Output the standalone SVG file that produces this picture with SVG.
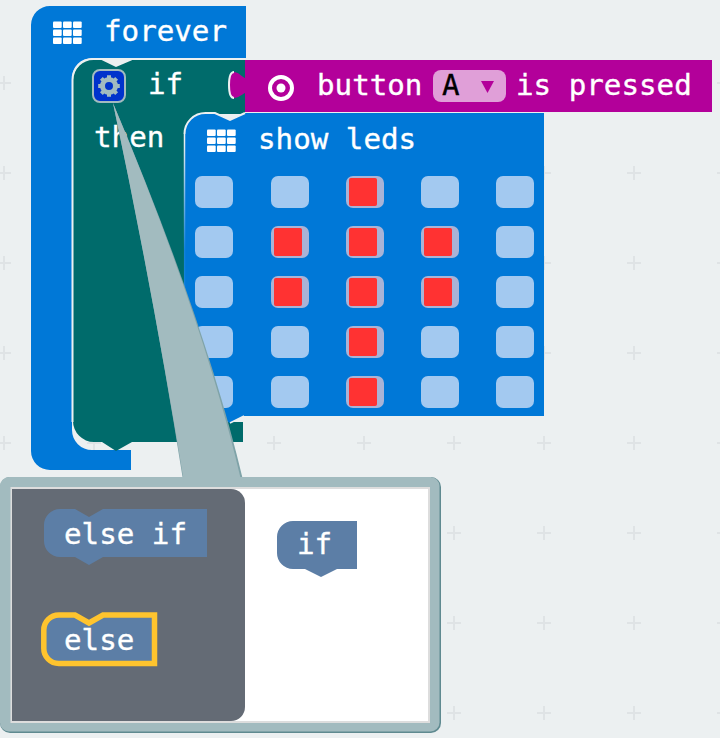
<svg xmlns="http://www.w3.org/2000/svg" width="720" height="738" viewBox="0 0 720 738">
<style>
text{font-family:"DejaVu Sans Mono","Liberation Mono",monospace;fill:#fff;stroke:#fff;stroke-width:.35;font-size:29.2px}
.w{fill:#fff}
.off{fill:#a3c9f0}
.red{fill:#ff3030}
.pl{stroke:#dfe3e5;stroke-width:2;fill:none}
.blk{fill:#5c7ea6}
.edge{fill:none;stroke:#ecf0f1;stroke-width:2}
</style>
<defs>
<filter id="soft" x="-10%" y="-10%" width="120%" height="120%"><feGaussianBlur stdDeviation=".6"/></filter>
<linearGradient id="fade" gradientUnits="userSpaceOnUse" x1="0" y1="140" x2="0" y2="250"><stop offset="0" stop-color="#ecf0f1"/><stop offset="1" stop-color="#ecf0f1" stop-opacity=".08"/></linearGradient>
<path id="p" d="M-7 0H7M0-7V7"/>
<g id="grid"><rect x="0" y="0" width="8.700" height="6.600" rx="1" class="w"/><rect x="10" y="0" width="8.700" height="6.600" rx="1" class="w"/><rect x="20" y="0" width="8.700" height="6.600" rx="1" class="w"/><rect x="0" y="8" width="8.700" height="6.600" rx="1" class="w"/><rect x="10" y="8" width="8.700" height="6.600" rx="1" class="w"/><rect x="20" y="8" width="8.700" height="6.600" rx="1" class="w"/><rect x="0" y="16" width="8.700" height="6.600" rx="1" class="w"/><rect x="10" y="16" width="8.700" height="6.600" rx="1" class="w"/><rect x="20" y="16" width="8.700" height="6.600" rx="1" class="w"/></g>
<g id="led"><rect width="38" height="32" rx="7" class="off"/></g>
<g id="ledon"><rect width="38" height="32" rx="7" fill="#a9b3d6"/><rect x="3" y="2" width="28" height="28" rx="2" class="red" filter="url(#soft)"/></g>
<path id="teeth" d="M-2-10.800H2V-8H-2ZM-2 8H2V10.800H-2Z" fill="#a2bbbf"/>
</defs>
<rect width="720" height="738" fill="#ecf0f1"/>
<g class="pl">
<use href="#p" x="4" y="83"/><use href="#p" x="4" y="173"/><use href="#p" x="4" y="263"/><use href="#p" x="4" y="353"/><use href="#p" x="4" y="443"/>
<use href="#p" x="94" y="443"/><use href="#p" x="274" y="443"/><use href="#p" x="364" y="443"/>
<use href="#p" x="544" y="173"/><use href="#p" x="544" y="263"/><use href="#p" x="544" y="353"/>
<use href="#p" x="634" y="173"/><use href="#p" x="634" y="263"/><use href="#p" x="634" y="353"/>
<use href="#p" x="724" y="83"/><use href="#p" x="724" y="173"/><use href="#p" x="724" y="263"/><use href="#p" x="724" y="353"/>
<use href="#p" x="454" y="443"/><use href="#p" x="544" y="443"/><use href="#p" x="634" y="443"/><use href="#p" x="724" y="443"/>
<use href="#p" x="454" y="533"/><use href="#p" x="544" y="533"/><use href="#p" x="634" y="533"/><use href="#p" x="724" y="533"/>
<use href="#p" x="454" y="623"/><use href="#p" x="544" y="623"/><use href="#p" x="634" y="623"/><use href="#p" x="724" y="623"/>
<use href="#p" x="454" y="713"/><use href="#p" x="544" y="713"/><use href="#p" x="634" y="713"/><use href="#p" x="724" y="713"/>
</g>
<g id="forever">
<path d="M31 25a19 19 0 0 1 19-19H246V58H92a20 20 0 0 0-20 20V430a20 20 0 0 0 20 20H131V470H50a19 19 0 0 1-19-19Z" fill="#0078d7"/>
<use href="#grid" x="53" y="21.500"/>
<text x="104" y="41">forever</text>
</g>
<g id="if">
<path d="M73 80a21 21 0 0 1 21-21H102L116 66L132 59H245V114H207L185 134V422H243V442H132L116 451L102 442H94a21 21 0 0 1-21-21Z" fill="#006b6b"/>
<path class="edge" d="M72.500 422V80a21 21 0 0 1 21-21H102L116 66L132 59H245"/>
<rect x="93" y="70" width="32" height="32" rx="7" fill="#0033cc" stroke="#a2bbbf" stroke-width="2"/>
<g transform="translate(109 86)"><circle r="6.500" fill="none" stroke="#a2bbbf" stroke-width="5"/><use href="#teeth"/><use href="#teeth" transform="rotate(45)"/><use href="#teeth" transform="rotate(90)"/><use href="#teeth" transform="rotate(135)"/></g>
<text x="148" y="94">if</text>
<text x="94" y="147">then</text>
</g>
<g id="button">
<path d="M245 60H712V112H245V93C241 95 238 98 234 98C230 98 229 93 229 85C229 77 230 72 234 72C238 72 241 76 245 78Z" fill="#b3009a"/>
<path d="M234 72C230 72 229 77 229 85C229 93 230 98 234 98" fill="none" stroke="#ecf0f1" stroke-width="2"/>
<circle cx="281" cy="88" r="11" fill="none" stroke="#fff" stroke-width="4"/><circle cx="281" cy="88" r="4.500" class="w"/>
<text x="317" y="95">button</text>
<rect x="433" y="70" width="73" height="32" rx="8" fill="#e09fd8"/>
<text x="442" y="95" style="fill:#000;stroke:#000">A</text>
<path d="M481 81H494L487.500 93Z" fill="#b3009a"/>
<text x="516" y="95">is pressed</text>
</g>
<g id="showleds">
<path d="M184 134a21 21 0 0 1 21-21H215L230 120L245 113H544V416H244L230 423L216 416H205a21 21 0 0 1-21-21Z" fill="#0078d7"/>
<path class="edge" d="M205.500 113a21 21 0 0 0-21 21M205.500 113H215L230 120L245 113"/>
<path d="M184.500 134V400" fill="none" stroke="url(#fade)" stroke-width="1.500"/>
<path d="M244 416L230 423" fill="none" stroke="#ecf0f1" stroke-width="1.500"/>
<use href="#grid" x="207" y="129.500"/>
<text x="258" y="149">show leds</text>
<use href="#led" x="195" y="176"/><use href="#led" x="271" y="176"/><use href="#ledon" x="346" y="176"/><use href="#led" x="421" y="176"/><use href="#led" x="496" y="176"/>
<use href="#led" x="195" y="226"/><use href="#ledon" x="271" y="226"/><use href="#ledon" x="346" y="226"/><use href="#ledon" x="421" y="226"/><use href="#led" x="496" y="226"/>
<use href="#led" x="195" y="276"/><use href="#ledon" x="271" y="276"/><use href="#ledon" x="346" y="276"/><use href="#ledon" x="421" y="276"/><use href="#led" x="496" y="276"/>
<use href="#led" x="195" y="326"/><use href="#led" x="271" y="326"/><use href="#ledon" x="346" y="326"/><use href="#led" x="421" y="326"/><use href="#led" x="496" y="326"/>
<use href="#led" x="195" y="376"/><use href="#led" x="271" y="376"/><use href="#ledon" x="346" y="376"/><use href="#led" x="421" y="376"/><use href="#led" x="496" y="376"/>
</g>
<g id="callout">
<path d="M113 103Q153 290 183 480L243 480Q205 320 113 103Z" fill="#7fa3a8"/>
<rect x="0" y="477" width="441" height="256" rx="10" fill="#5f8a90"/>
<rect x="0" y="477" width="439.500" height="254.500" rx="9" fill="#a2bbbf" filter="url(#soft)"/>
<path d="M113 103Q152.500 290 184 482L241.500 482Q204 320 113 103Z" fill="#a2bbbf"/>
<rect x="11.500" y="488" width="417.500" height="234" fill="#fff" stroke="#ddd" stroke-width="2"/>
<path d="M12 489H231a14 14 0 0 1 14 14V707a14 14 0 0 1-14 14H12Z" fill="#646b75"/>
</g>
<g id="elseif">
<path d="M44 525a16 16 0 0 1 16-16H75L89 517L103 509H207V557H103L89 565L75 557H60a16 16 0 0 1-16-16Z" class="blk"/>
<text x="64" y="544">else if</text>
</g>
<g id="else">
<path d="M43.800 630a15 15 0 0 1 15-15H75L89 623L103 615H154.500V663.500H58.800a15 15 0 0 1-15-15Z" class="blk" stroke="#ffc42e" stroke-width="5.500"/>
<text x="64" y="650">else</text>
</g>
<g id="ifblock">
<path d="M277 537a16 16 0 0 1 16-16H357V569H337L321 577L305 569H293a16 16 0 0 1-16-16Z" class="blk"/>
<text x="297" y="554">if</text>
</g>
</svg>
